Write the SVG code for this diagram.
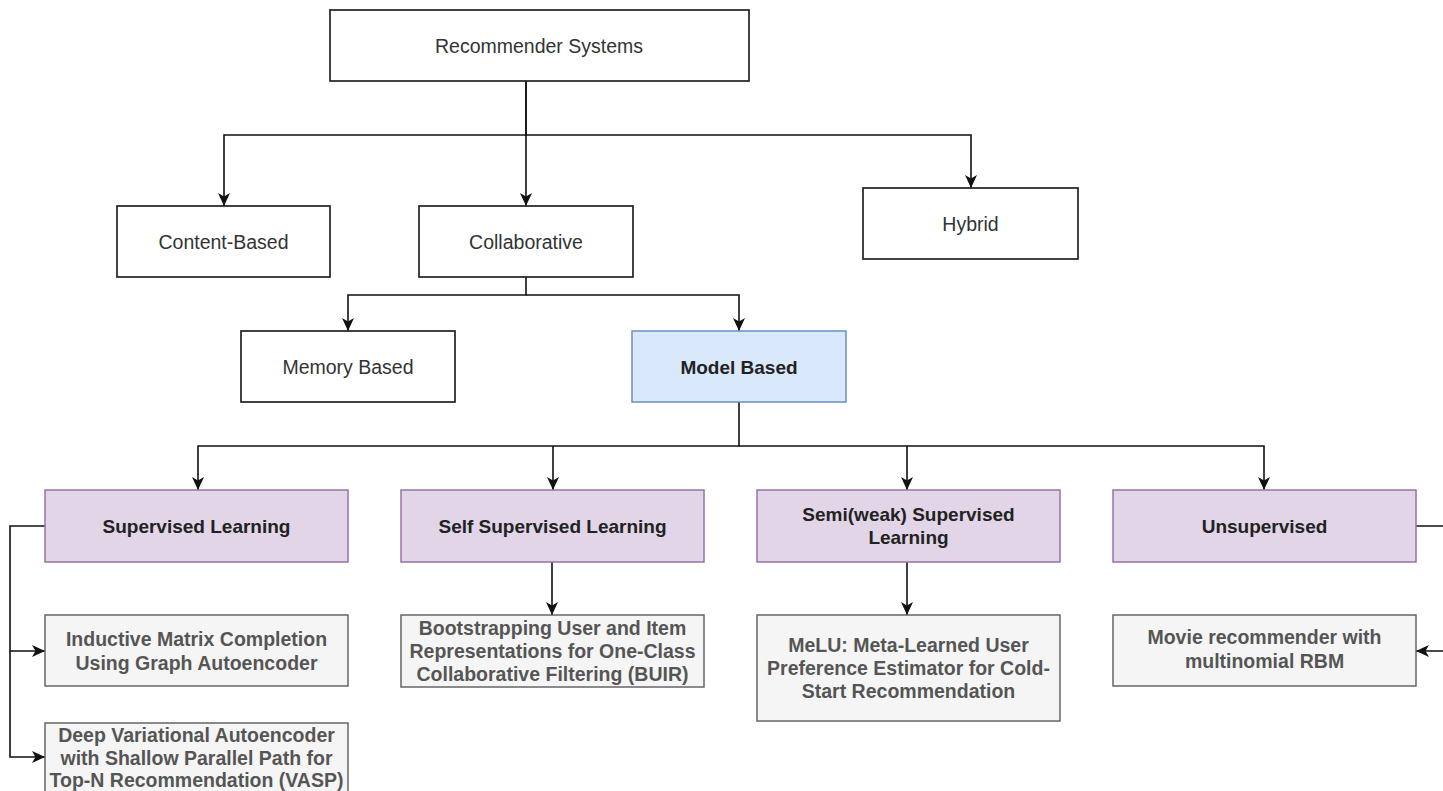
<svg xmlns="http://www.w3.org/2000/svg" width="1443" height="791" viewBox="0 0 1443 791">
<style>
.b{fill:#fff;stroke:#222;stroke-width:1.7}
.m{fill:#dae8fc;stroke:#6c8ebf;stroke-width:1.5}
.p{fill:#e1d5e7;stroke:#9673a6;stroke-width:1.5}
.g{fill:#f5f5f5;stroke:#666;stroke-width:1.5}
text{font-family:"Liberation Sans",Arial,sans-serif;text-anchor:middle}
.t{font-size:19.5px;fill:#333}
.tb{font-size:19px;fill:#222;font-weight:bold}
.tg{font-size:19.5px;fill:#555;font-weight:bold}
.c{fill:none;stroke:#111;stroke-width:1.6}
</style>
<defs>
<marker id="a" markerUnits="userSpaceOnUse" markerWidth="16" markerHeight="16" viewBox="0 0 16 16" refX="14" refY="8" orient="auto">
<path d="M1 2 L14 8 L1 14 L4.5 8 Z" fill="#111"/>
</marker>
</defs>
<g id="connectors">
<path class="c" d="M526 81 V135 H224 V206" marker-end="url(#a)"/>
<path class="c" d="M526 81 V206" marker-end="url(#a)"/>
<path class="c" d="M526 135 H971 V188" marker-end="url(#a)"/>
<path class="c" d="M526 277 V295 H348 V331" marker-end="url(#a)"/>
<path class="c" d="M526 295 H739 V331" marker-end="url(#a)"/>
<path class="c" d="M739 402 V446 H198 V490" marker-end="url(#a)"/>
<path class="c" d="M553 446 V490" marker-end="url(#a)"/>
<path class="c" d="M739 446 H907 V490" marker-end="url(#a)"/>
<path class="c" d="M907 446 H1264 V490" marker-end="url(#a)"/>
<path class="c" d="M45 526 H10 V651 H45" marker-end="url(#a)"/>
<path class="c" d="M10 651 V757 H45" marker-end="url(#a)"/>
<path class="c" d="M552 562 V615" marker-end="url(#a)"/>
<path class="c" d="M907 562 V615" marker-end="url(#a)"/>
<path class="c" d="M1416 526 H1460 V651 H1416" marker-end="url(#a)"/>
</g>
<g id="root"><rect class="b" x="330" y="10" width="419" height="71"/><text class="t" x="539" y="52.5">Recommender Systems</text></g>
<g id="content"><rect class="b" x="117" y="206" width="213" height="71"/><text class="t" x="223.5" y="248.5">Content-Based</text></g>
<g id="collab"><rect class="b" x="419" y="206" width="214" height="71"/><text class="t" x="526" y="248.5">Collaborative</text></g>
<g id="hybrid"><rect class="b" x="863" y="188" width="215" height="71"/><text class="t" x="970.5" y="230.5">Hybrid</text></g>
<g id="memory"><rect class="b" x="241" y="331" width="214" height="71"/><text class="t" x="348" y="373.5">Memory Based</text></g>
<g id="model"><rect class="m" x="632" y="331" width="214" height="71"/><text class="tb" x="739" y="373.5">Model Based</text></g>
<g id="supervised"><rect class="p" x="45" y="490" width="303" height="72"/><text class="tb" x="196.5" y="532.5">Supervised Learning</text></g>
<g id="selfsupervised"><rect class="p" x="401" y="490" width="303" height="72"/><text class="tb" x="552.5" y="532.5">Self Supervised Learning</text></g>
<g id="semisupervised"><rect class="p" x="757" y="490" width="303" height="72"/><text class="tb" x="908.5" y="521">Semi(weak) Supervised</text><text class="tb" x="908.5" y="544">Learning</text></g>
<g id="unsupervised"><rect class="p" x="1113" y="490" width="303" height="72"/><text class="tb" x="1264.5" y="532.5">Unsupervised</text></g>
<g id="imc"><rect class="g" x="45" y="615" width="303" height="71"/><text class="tg" x="196.5" y="646">Inductive Matrix Completion</text><text class="tg" x="196.5" y="669.5">Using Graph Autoencoder</text></g>
<g id="vasp"><rect class="g" x="45" y="723" width="303" height="80"/><text class="tg" x="196.5" y="742">Deep Variational Autoencoder</text><text class="tg" x="196.5" y="764.5">with Shallow Parallel Path for</text><text class="tg" x="196.5" y="787">Top-N Recommendation (VASP)</text></g>
<g id="buir"><rect class="g" x="401" y="615" width="303" height="72"/><text class="tg" x="552.5" y="635">Bootstrapping User and Item</text><text class="tg" x="552.5" y="658">Representations for One-Class</text><text class="tg" x="552.5" y="681">Collaborative Filtering (BUIR)</text></g>
<g id="melu"><rect class="g" x="757" y="615" width="303" height="106"/><text class="tg" x="908.5" y="652">MeLU: Meta-Learned User</text><text class="tg" x="908.5" y="675">Preference Estimator for Cold-</text><text class="tg" x="908.5" y="698">Start Recommendation</text></g>
<g id="movie"><rect class="g" x="1113" y="615" width="303" height="71"/><text class="tg" x="1264.5" y="644">Movie recommender with</text><text class="tg" x="1264.5" y="667.5">multinomial RBM</text></g>
</svg>
